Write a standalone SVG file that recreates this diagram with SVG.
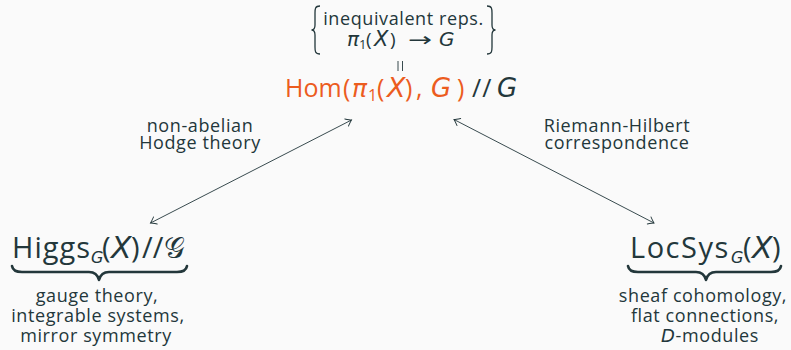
<svg xmlns="http://www.w3.org/2000/svg" width="791" height="350" viewBox="0 0 791 350">
<defs>
<style>
text{font-family:"Open Sans","DejaVu Sans",sans-serif;fill:#23373b}
.sm{font-size:18px;letter-spacing:0.6px;text-anchor:middle}
.m{font-family:"DejaVu Sans",sans-serif;font-style:italic}
.or{fill:#ec5c1e}
.ln{stroke:#23373b;stroke-width:0.9;fill:none}
.brace{stroke:#23373b;stroke-width:1.3;fill:none}
.ub{stroke:#23373b;stroke-width:2.6;fill:none;stroke-linecap:round;stroke-linejoin:round}
</style>
<marker id="tip" viewBox="-7 -5 9 10" refX="0" refY="0" markerWidth="9" markerHeight="10" markerUnits="userSpaceOnUse" orient="auto-start-reverse">
<path d="M-5.5,-4 Q-1.5,-0.8 0,0 Q-1.5,0.8 -5.5,4" fill="none" stroke="#23373b" stroke-width="0.9" stroke-linecap="round"/>
</marker>
</defs>
<rect width="791" height="350" fill="#fafafa"/>

<g id="hom">
<path class="brace" d="M320,6 C315,6 315,9 315,13 L315,25 C315,28 314,30 311.5,30 C314,30 315,32 315,35 L315,47 C315,51 315,54 320,54"/>
<path class="brace" d="M487,6 C492,6 492,9 492,13 L492,25 C492,28 493,30 495.5,30 C493,30 492,32 492,35 L492,47 C492,51 492,54 487,54"/>
<text class="sm" x="403.5" y="25">inequivalent reps.</text>
<g font-size="19">
<text class="m" x="347" y="46" font-size="20">π</text>
<text x="359" y="49" font-size="13">1</text>
<text x="366" y="46">(</text>
<text class="m" x="374" y="46" font-size="21">X</text>
<text x="390" y="46">)</text>
<text x="408" y="46" font-family="DejaVu Sans, sans-serif" textLength="24" lengthAdjust="spacingAndGlyphs">→</text>
<text class="m" x="439" y="46" font-size="20">G</text>
</g>
<line class="ln" x1="398" y1="61" x2="398" y2="71"/>
<line class="ln" x1="402.5" y1="61" x2="402.5" y2="71"/>
<g font-size="25">
<text class="or" x="285" y="97">Hom</text>
<text class="or" x="343" y="97">(</text>
<text class="or m" x="352" y="97">π</text>
<text class="or" x="368" y="101" font-size="16">1</text>
<text class="or" x="377" y="97">(</text>
<text class="or m" x="387" y="97" font-size="27">X</text>
<text class="or" x="405" y="97">)</text>
<text class="or" x="416" y="97">,</text>
<text class="or m" x="431" y="97" font-size="26">G</text>
<text class="or" x="457" y="97">)</text>
<text x="472" y="97" letter-spacing="1">//</text>
<text class="m" x="497" y="97" font-size="26">G</text>
</g>
</g>

<g id="higgs">
<g font-size="29">
<text x="12" y="258" letter-spacing="1">Higgs</text>
<text class="m" x="91" y="263" font-size="16">G</text>
<text x="102" y="258">(</text>
<text class="m" x="111" y="258" font-size="30">X</text>
<text x="131" y="258">)</text>
<text x="142" y="258">//</text>
<text x="164" y="258" font-family="DejaVu Sans, serif">𝒢</text>
</g>
<path class="ub" d="M12,266 Q13,272 22,272 L89,272 Q97,272 99,280 Q101,272 109,272 L177,272 Q186,272 187,266"/>
<text class="sm" x="97" y="302">gauge theory,</text>
<text class="sm" x="98" y="322">integrable systems,</text>
<text class="sm" x="96" y="342">mirror symmetry</text>
</g>

<g id="locsys">
<g font-size="29">
<text x="630" y="258" letter-spacing="1.5">LocSys</text>
<text class="m" x="731" y="263" font-size="16">G</text>
<text x="743" y="258">(</text>
<text class="m" x="752" y="258" font-size="30">X</text>
<text x="772" y="258">)</text>
</g>
<path class="ub" d="M628,266 Q629,272 638,272 L696,272 Q704,272 706,280 Q708,272 716,272 L771,272 Q780,272 781,266"/>
<text class="sm" x="703" y="302">sheaf cohomology,</text>
<text class="sm" x="705" y="322">flat connections,</text>
<text class="sm" x="710" y="342"><tspan class="m">D</tspan>-modules</text>
</g>

<g id="connectors">
<line class="ln" x1="351.5" y1="120" x2="150.5" y2="223" marker-start="url(#tip)" marker-end="url(#tip)"/>
<line class="ln" x1="454" y1="119.5" x2="654" y2="223" marker-start="url(#tip)" marker-end="url(#tip)"/>
<text class="sm" x="200" y="132">non-abelian</text>
<text class="sm" x="200" y="149">Hodge theory</text>
<text class="sm" x="617" y="132">Riemann-Hilbert</text>
<text class="sm" x="617" y="149">correspondence</text>
</g>
</svg>
